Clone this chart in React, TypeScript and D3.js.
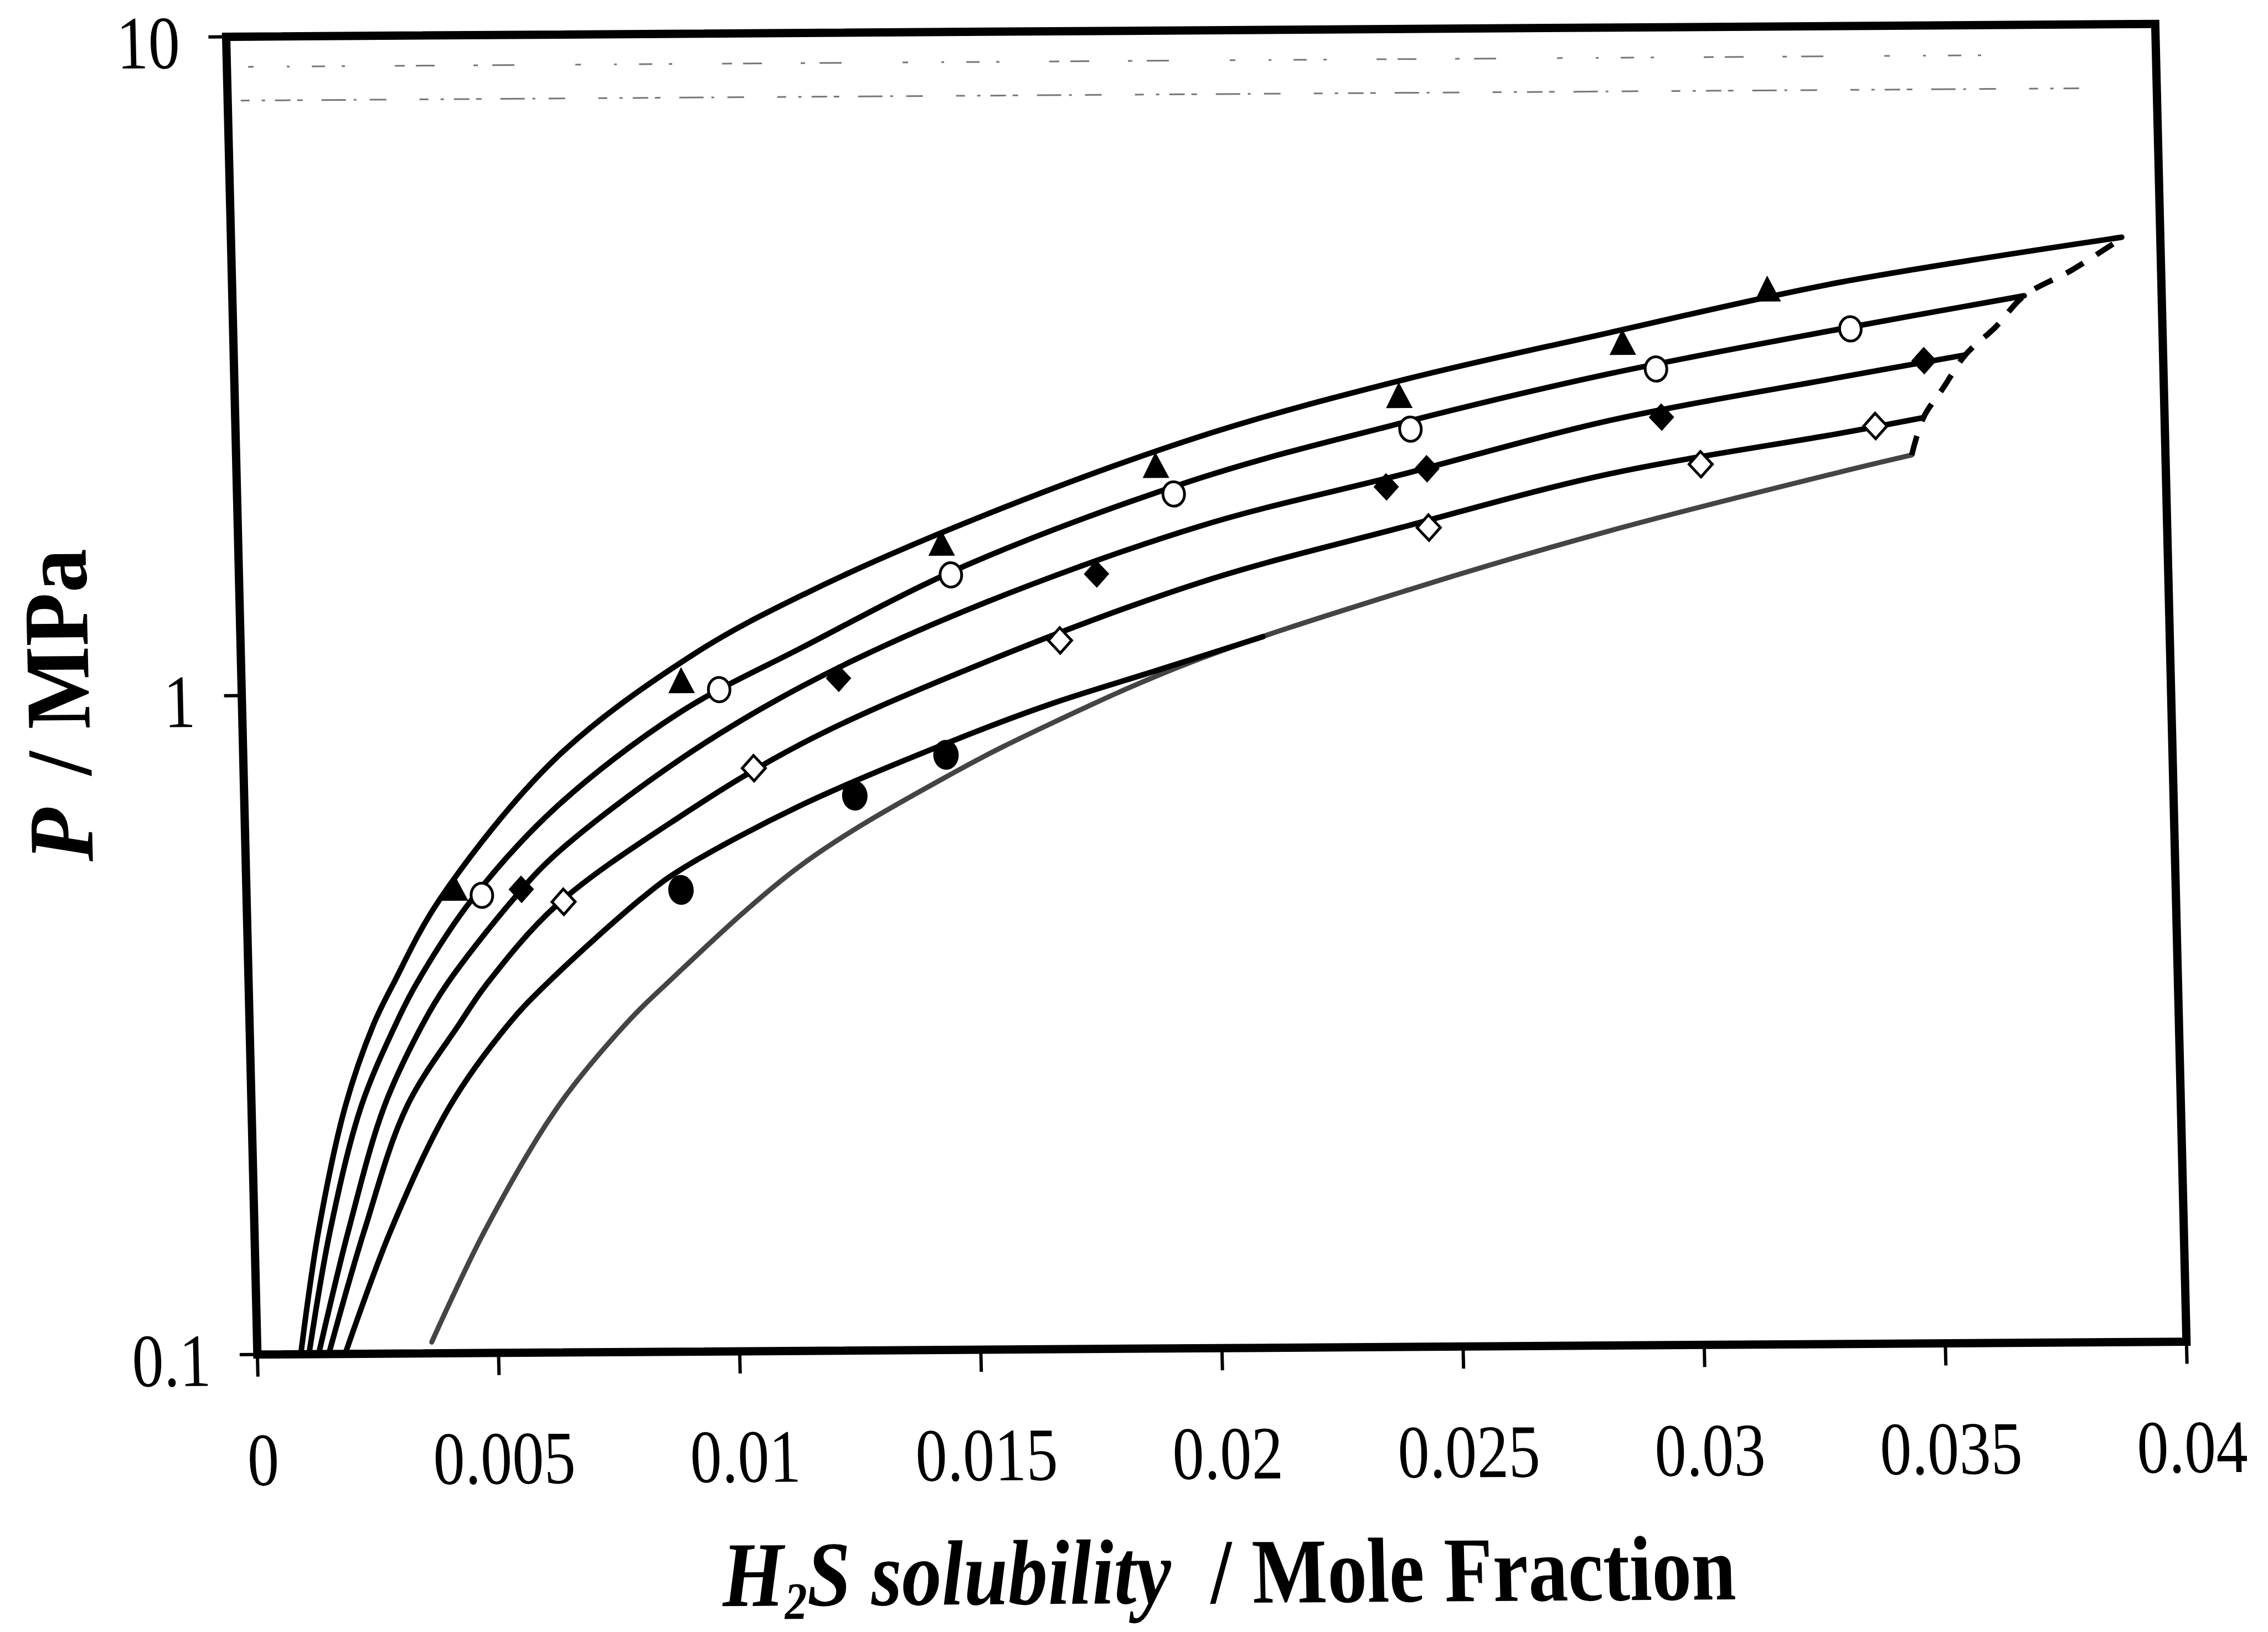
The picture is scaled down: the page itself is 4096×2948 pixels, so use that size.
import React from 'react';
import * as d3 from 'd3';

// Axis ticks
const xTickValues = [0, 0.005, 0.01, 0.015, 0.02, 0.025, 0.03, 0.035, 0.04];
const xTickLabels = ['0', '0.005', '0.01', '0.015', '0.02', '0.025', '0.03', '0.035', '0.04'];
const yTickValues = [0.1, 1, 10];
const yTickLabels = ['0.1', '1', '10'];

// Model isotherms: H2S mole fraction vs pressure (MPa)
const isoTriX = [0.0009, 0.00133, 0.00194, 0.00257, 0.00300, 0.0040, 0.0065, 0.0094, 0.0117, 0.0151, 0.0200, 0.0242, 0.0285, 0.0333, 0.0392];
const isoTriP = [0.1, 0.154, 0.237, 0.316, 0.364, 0.488, 0.80, 1.145, 1.406, 1.80, 2.42, 2.93, 3.44, 4.08, 4.75];

const isoCircX = [0.00107, 0.00157, 0.00227, 0.00303, 0.00348, 0.00467, 0.00647, 0.00906, 0.01164, 0.01507, 0.01993, 0.0242, 0.02848, 0.03332, 0.03715];
const isoCircP = [0.1, 0.154, 0.237, 0.316, 0.364, 0.488, 0.673, 0.932, 1.168, 1.549, 2.087, 2.526, 2.98, 3.47, 3.88];

const isoDiaX = [0.00127, 0.00195, 0.00275, 0.00359, 0.00412, 0.00553, 0.00644, 0.00904, 0.01162, 0.01505, 0.01991, 0.02418, 0.02845, 0.03329, 0.0359];
const isoDiaP = [0.1, 0.154, 0.237, 0.316, 0.364, 0.488, 0.571, 0.791, 1.02, 1.324, 1.765, 2.11, 2.53, 2.93, 3.16];

const isoOpenDiaX = [0.00148, 0.00228, 0.00322, 0.00435, 0.00495, 0.00642, 0.009, 0.01159, 0.01502, 0.01988, 0.02415, 0.02843, 0.03327, 0.035];
const isoOpenDiaP = [0.1, 0.154, 0.237, 0.316, 0.364, 0.477, 0.647, 0.835, 1.075, 1.449, 1.754, 2.10, 2.41, 2.54];

const isoDotX = [0.00182, 0.00283, 0.00411, 0.00538, 0.0062, 0.00819, 0.00898, 0.01156, 0.01499, 0.0168, 0.0190, 0.0212];
const isoDotP = [0.1, 0.154, 0.237, 0.316, 0.364, 0.488, 0.537, 0.674, 0.855, 0.955, 1.07, 1.20];

// Lower phase-boundary curve
const lowerX = [0.00362, 0.00479, 0.00635, 0.00777, 0.00865, 0.01153, 0.01473, 0.01679, 0.0197, 0.02412, 0.0284, 0.03325, 0.03474];
const lowerP = [0.104, 0.154, 0.236, 0.313, 0.361, 0.547, 0.752, 0.892, 1.10, 1.40, 1.72, 2.105, 2.23];

// Dashed line joining the isotherm end points
const endLineX = [0.03474, 0.035, 0.03543, 0.0359, 0.03654, 0.03715, 0.03815, 0.03923];
const endLineP = [2.23, 2.54, 2.82, 3.16, 3.48, 3.88, 4.24, 4.75];

// Measured solubilities
const ptsTriX = [0.00432, 0.00912, 0.01458, 0.01906, 0.02414, 0.0288, 0.03183];
const ptsTriP = [0.508, 1.044, 1.677, 2.19, 2.78, 3.33, 4.0];
const ptsCircX = [0.00488, 0.0099, 0.01476, 0.01942, 0.02436, 0.02948, 0.03353];
const ptsCircP = [0.495, 1.01, 1.50, 1.98, 2.47, 3.03, 3.47];
const ptsDiaX = [0.0057, 0.01238, 0.01778, 0.02383, 0.02468, 0.02957, 0.03504];
const ptsDiaP = [0.505, 1.048, 1.50, 2.02, 2.15, 2.56, 3.10];
const ptsOpenDiaX = [0.00657, 0.01058, 0.01699, 0.02469, 0.03036, 0.034];
const ptsOpenDiaP = [0.483, 0.767, 1.19, 1.75, 2.17, 2.47];
const ptsDotX = [0.00901, 0.01266, 0.01457];
const ptsDotP = [0.502, 0.695, 0.80];

// Faint broken gridlines near the top
const faintP = [9, 8];
const faintFromX = [0.00044, 0.00027];
const faintToX = [0.0367, 0.0385];

const K = 4096 / 5300;
const W = 4508 * K;
const H = 3080 * K;
// slight shear/rotation of the plotting frame
const FRAME = `matrix(1 ${-30 / 4508} ${73 / 3080} 1 ${528.5 * K} ${86 * K})`;

const zip = (xs: number[], ps: number[]): [number, number][] => xs.map((v, i) => [v, ps[i]]);

export default function App() {
  const x = d3.scaleLinear().domain([0, 0.04]).range([0, W]);
  const y = d3.scaleLog().domain([0.1, 10]).range([H, 0]);
  const line = d3
    .line<[number, number]>()
    .x((d) => x(d[0]))
    .y((d) => y(d[1]))
    .curve(d3.curveCatmullRom.alpha(0.5));

  const isotherms = [
    zip(isoTriX, isoTriP),
    zip(isoCircX, isoCircP),
    zip(isoDiaX, isoDiaP),
    zip(isoOpenDiaX, isoOpenDiaP),
    zip(isoDotX, isoDotP),
  ];

  const font = "'Liberation Serif', 'Times New Roman', serif";

  return (
    <svg
      width={4096}
      height={2948}
      viewBox="0 0 4096 2948"
      style={{ position: 'absolute', left: 0, top: 0, background: '#fff' }}
      fontFamily={font}
    >
      <rect x={0} y={0} width={4096} height={2948} fill="#fff" />
      <g transform={FRAME}>
        {/* faint gridlines */}
        {faintP.map((p, i) => (
          <line
            key={`fg${i}`}
            x1={x(faintFromX[i])}
            x2={x(faintToX[i])}
            y1={y(p)}
            y2={y(p)}
            stroke="#777"
            strokeWidth={3}
            strokeDasharray={
              i === 0
                ? '10 60 5 40 24 30 6 90 18 20 34 70 8 26 40 110'
                : '16 22 6 18 28 12 10 34 44 14 5 24 30 60'
            }
          />
        ))}

        {/* lower boundary */}
        <path d={line(zip(lowerX, lowerP)) || ''} fill="none" stroke="#444" strokeWidth={9} strokeLinejoin="round" strokeLinecap="round" />

        {/* isotherms */}
        {isotherms.map((pts, i) => (
          <path key={`iso${i}`} d={line(pts) || ''} fill="none" stroke="#000" strokeWidth={10} strokeLinejoin="round" strokeLinecap="round" />
        ))}

        {/* end-point line */}
        <path
          d={line(zip(endLineX, endLineP)) || ''}
          fill="none"
          stroke="#000"
          strokeWidth={10}
          strokeDasharray="36 28"
        />

        {/* measured points */}
        {zip(ptsTriX, ptsTriP).map((d, i) => (
          <path key={`t${i}`} transform={`translate(${x(d[0])},${y(d[1])})`} d="M0,-24 L24,23 L-24,23 Z" fill="#000" />
        ))}
        {zip(ptsCircX, ptsCircP).map((d, i) => (
          <ellipse key={`c${i}`} cx={x(d[0])} cy={y(d[1])} rx={19.5} ry={22} fill="#fff" stroke="#000" strokeWidth={5} />
        ))}
        {zip(ptsDiaX, ptsDiaP).map((d, i) => (
          <path key={`d${i}`} transform={`translate(${x(d[0])},${y(d[1])})`} d="M0,-25 L23,0 L0,25 L-23,0 Z" fill="#000" />
        ))}
        {zip(ptsOpenDiaX, ptsOpenDiaP).map((d, i) => (
          <path key={`od${i}`} transform={`translate(${x(d[0])},${y(d[1])})`} d="M0,-23 L21,0 L0,23 L-21,0 Z" fill="#fff" stroke="#000" strokeWidth={5} />
        ))}
        {zip(ptsDotX, ptsDotP).map((d, i) => (
          <ellipse key={`f${i}`} cx={x(d[0])} cy={y(d[1])} rx={23} ry={27} fill="#000" />
        ))}

        {/* frame */}
        <rect x={0} y={0} width={W} height={H} fill="none" stroke="#000" strokeWidth={15} />

        {/* x ticks */}
        {xTickValues.map((v, i) => (
          <g key={`xt${i}`}>
            <line x1={x(v)} x2={x(v)} y1={H} y2={H + 40} stroke="#000" strokeWidth={6} />
            <text
              transform={`translate(${x(v) + 6},${H + 236}) scale(0.84,1)`}
              textAnchor="middle"
              fontSize={136}
              fill="#000"
            >
              {xTickLabels[i]}
            </text>
          </g>
        ))}

        {/* y ticks */}
        {yTickValues.map((v, i) => (
          <g key={`yt${i}`}>
            <line x1={-32} x2={0} y1={y(v)} y2={y(v)} stroke="#000" strokeWidth={6} />
            <text
              transform={`translate(-84,${y(v) + 56}) scale(0.84,1)`}
              textAnchor="end"
              fontSize={136}
              fill="#000"
            >
              {yTickLabels[i]}
            </text>
          </g>
        ))}

        {/* x axis title */}
        <text
          transform={`translate(${W / 2 + 3},${H + 460}) scale(0.86,1)`}
          textAnchor="middle"
          fontSize={167}
          fontWeight="bold"
          fill="#000"
          style={{ whiteSpace: 'pre' }}
        >
          <tspan fontStyle="italic">H</tspan>
          <tspan fontStyle="italic" fontSize={95} dy={24}>2</tspan>
          <tspan fontStyle="italic" dy={-24}>S solubility</tspan>
          <tspan dx={40}>{' / Mole Fraction'}</tspan>
        </text>

        {/* y axis title */}
        <text
          transform={`translate(-276,${H / 2 + 15}) rotate(-90) scale(0.95,1)`}
          textAnchor="middle"
          fontSize={167}
          fontWeight="bold"
          fill="#000"
          style={{ whiteSpace: 'pre' }}
        >
          <tspan fontStyle="italic">P</tspan>
          <tspan dx={20}>{' / MPa'}</tspan>
        </text>
      </g>
    </svg>
  );
}
